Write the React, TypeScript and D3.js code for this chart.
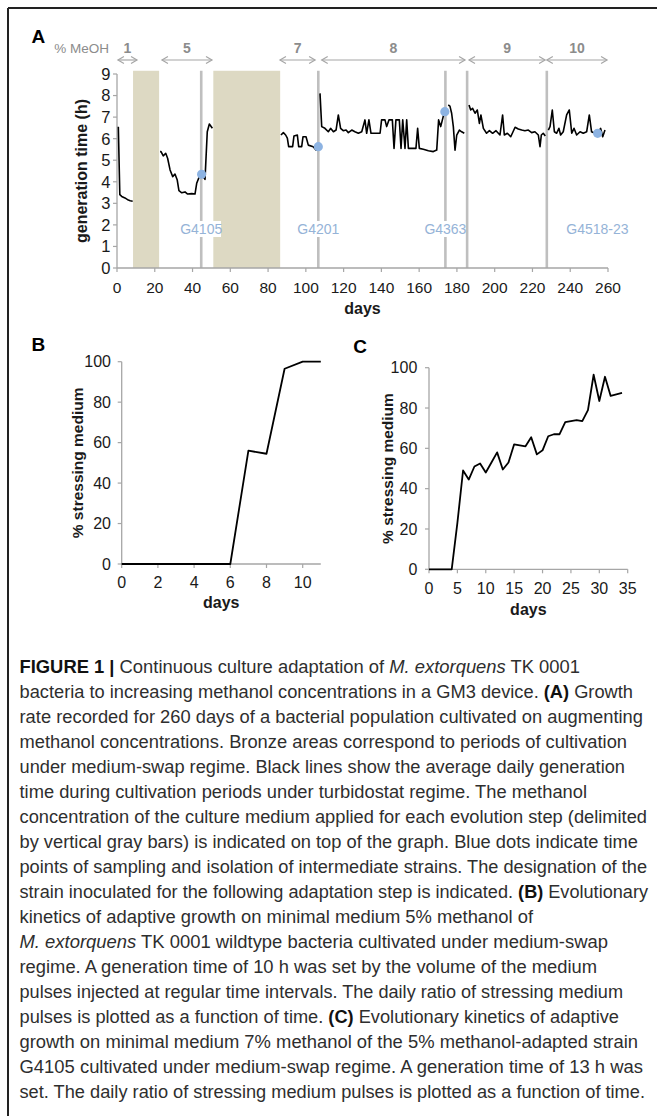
import React from 'react'
import * as d3 from 'd3'

// ---- panel A: generation time (h) under turbidostat, one array per run ----
const run1 = [[0.7, 6.55], [1.5, 3.4], [2.5, 3.32], [4.2, 3.25], [6, 3.15], [7, 3.12], [8.3, 3.1]]
const run2 = [
  [22.8, 5.4], [23.3, 5.4], [24.5, 5.2], [25.8, 5.32], [26.8, 5.09], [28.1, 4.55], [29.5, 4.24],
  [30.7, 4.36], [31.9, 4.08], [32.8, 3.59], [34.3, 3.49], [36, 3.53], [37.4, 3.43], [39.6, 3.45],
  [41.3, 3.43], [42.2, 3.93], [43.6, 4.24], [44.8, 4.35], [46.6, 4.11], [47.8, 6.32], [48.9, 6.68],
  [50.5, 6.48]
]
const run3 = [
  [86.8, 6.17], [88.1, 6.28], [89.3, 6.17], [90.2, 6.02], [90.9, 5.63], [93, 5.63], [93.7, 6.12],
  [95.5, 6.17], [96.2, 5.63], [97.8, 5.63], [98.5, 6.09], [100.1, 6.09], [101.3, 5.7], [103.9, 5.63],
  [105.4, 5.47], [106.6, 5.63]
]
const run4 = [
  [107.5, 8.1], [108.4, 6.56], [110.1, 6.48], [111.9, 6.32], [113.1, 6.48], [114.6, 6.32], [116, 6.4],
  [117.2, 7.1], [118.4, 6.48], [119.8, 6.37], [121.3, 6.4], [122.5, 6.28], [124.3, 6.4], [126, 6.32],
  [127.8, 6.25], [129.6, 6.32], [131.3, 6.87], [132.2, 6.25], [133.4, 6.87], [134.5, 6.25], [137.5, 6.25],
  [139.3, 6.25], [140.1, 6.87], [141.9, 6.87], [142.8, 6.56], [144, 6.87], [145.8, 6.87], [146.7, 5.55],
  [147.7, 6.87], [149.5, 6.87], [150.4, 5.55], [151.3, 6.87], [152.5, 5.55], [153.4, 6.87], [154.3, 5.55],
  [158.3, 5.55], [159.2, 6.48], [160.1, 5.55], [162.2, 5.51], [164.9, 5.44], [167.5, 5.4], [169.3, 5.47],
  [170.3, 6.87], [171.4, 6.56], [172.3, 6.87], [173.2, 7.18]
]
const run5 = [
  [175.4, 7.56], [176.3, 7.51], [177.2, 7.18], [178.1, 6.56], [179, 5.47], [179.9, 6.17], [181.3, 6.4],
  [182.5, 6.32], [183.9, 6.25]
]
const run6 = [
  [186.4, 7.56], [187.3, 7.33], [188.3, 7.41], [189.6, 7.18], [190.8, 7.33], [191.9, 6.71], [192.7, 7.1],
  [194, 6.48], [195.7, 6.25], [197.2, 6.37], [198.9, 6.25], [200.7, 6.37], [202.8, 6.17], [204.2, 7.1],
  [205.1, 6.17], [206.7, 6.25], [208.5, 6.09], [210.8, 6.53], [212.5, 6.45], [214.3, 6.4], [216, 6.37],
  [217.8, 6.4], [219.6, 6.28], [221.3, 6.32], [223.1, 6.17], [224, 5.63], [224.7, 6.17], [225.7, 6.25],
  [226.8, 6.12]
]
const run7 = [
  [228.4, 6.4], [229.3, 6.56], [230.5, 7.33], [231.6, 6.32], [232.8, 6.25], [234, 6.48], [234.9, 6.17],
  [236.3, 6.32], [238.1, 7.1], [239.5, 7.33], [240.8, 6.25], [242, 6.48], [243.4, 6.17], [245.2, 6.32],
  [246.9, 6.25], [248.7, 6.32], [250.1, 7.1], [251.3, 6.32], [253.1, 6.25], [254.5, 6.25], [256.1, 6.48],
  [257.2, 6.09], [258.4, 6.4]
]
const runs = [run1, run2, run3, run4, run5, run6, run7]

const swapPeriods = [[8.5, 22.3], [51, 86.4]]
const stepBars = [44.6, 106.6, 173.9, 185.4, 227.6]
const meohLabels = ['1', '5', '7', '8', '9', '10']
const meohFrom = [0.5, 23.8, 86.3, 108.4, 186.4, 227.6]
const meohTo = [10.6, 50.3, 104.9, 184.3, 226.7, 259.5]
const sampleDays = [44.8, 106.6, 173.6, 254.5]
const sampleValues = [4.35, 5.63, 7.25, 6.25]
const strainNames = ['G4105', 'G4201', 'G4363', 'G4518-23']
const strainDays = [44.6, 106.6, 173.9, 254.4]
const aXTicks = d3.range(0, 261, 20)
const aYTicks = d3.range(0, 10, 1)

// ---- panel B ----
const bDays = d3.range(0, 12)
const bPct = [0, 0, 0, 0, 0, 0, 0, 56, 54.5, 96.5, 100, 100]
const bXTicks = [0, 2, 4, 6, 8, 10]

// ---- panel C ----
const cDays = d3.range(0, 35)
const cPct = [
  0, 0, 0, 0, 0, 23, 49, 44.5, 51, 52.5, 48, 53, 58, 49.5, 53, 62, 61.5, 61, 65.5, 57, 59, 66, 67, 67,
  73, 73.5, 74, 73.5, 79, 96.5, 83.5, 95.5, 86, 86.8, 87.5
]
const cXTicks = d3.range(0, 36, 5)
const pctTicks = [0, 20, 40, 60, 80, 100]

// ---- caption ----
const caption = [
  '**FIGURE 1 |** Continuous culture adaptation of _M. extorquens_ TK 0001',
  'bacteria to increasing methanol concentrations in a GM3 device. **(A)** Growth',
  'rate recorded for 260 days of a bacterial population cultivated on augmenting',
  'methanol concentrations. Bronze areas correspond to periods of cultivation',
  'under medium-swap regime. Black lines show the average daily generation',
  'time during cultivation periods under turbidostat regime. The methanol',
  'concentration of the culture medium applied for each evolution step (delimited',
  'by vertical gray bars) is indicated on top of the graph. Blue dots indicate time',
  'points of sampling and isolation of intermediate strains. The designation of the',
  'strain inoculated for the following adaptation step is indicated. **(B)** Evolutionary',
  'kinetics of adaptive growth on minimal medium 5% methanol of',
  '_M. extorquens_ TK 0001 wildtype bacteria cultivated under medium-swap',
  'regime. A generation time of 10 h was set by the volume of the medium',
  'pulses injected at regular time intervals. The daily ratio of stressing medium',
  'pulses is plotted as a function of time. **(C)** Evolutionary kinetics of adaptive',
  'growth on minimal medium 7% methanol of the 5% methanol-adapted strain',
  'G4105 cultivated under medium-swap regime. A generation time of 13 h was',
  'set. The daily ratio of stressing medium pulses is plotted as a function of time.'
]
const captionEnds = [580, 633, 643, 627, 625, 587, 647, 638, 647, 648, 533, 608, 597, 623, 619, 638, 643, 645]

const FONT = 'Liberation Sans, Arial, Helvetica, sans-serif'
const AXIS = '#a6a6a6'

function Axes({ x, y, xTicks, yTicks, yLabelX, xLabelY, tickSize, xTickSize, yTitle, yTitleX, titleY }: any) {
  const [x0, x1] = x.range()
  const [y0, y1] = y.range()
  return (
    <g fontFamily={FONT}>
      <line x1={x0} x2={x0} y1={y0} y2={y1} stroke={AXIS} strokeWidth={1.3} />
      <line x1={x0} x2={x1} y1={y0} y2={y0} stroke={AXIS} strokeWidth={1.3} />
      {yTicks.map((t: number) => (
        <g key={'y' + t}>
          <line x1={x0 - 4} x2={x0} y1={y(t)} y2={y(t)} stroke={AXIS} strokeWidth={1.2} />
          <text x={yLabelX} y={y(t) + tickSize * 0.36} textAnchor="end" fontSize={tickSize} fill="#1a1a1a">{t}</text>
        </g>
      ))}
      {xTicks.map((t: number) => (
        <g key={'x' + t}>
          <line x1={x(t)} x2={x(t)} y1={y0} y2={y0 + 4} stroke={AXIS} strokeWidth={1.2} />
          <text x={x(t)} y={xLabelY} textAnchor="middle" fontSize={xTickSize || tickSize} fill="#1a1a1a">{t}</text>
        </g>
      ))}
      <text x={(x0 + x1) / 2} y={titleY} textAnchor="middle" fontSize={16} fontWeight="bold" fill="#1a1a1a">days</text>
      <text transform={`translate(${yTitleX},${(y0 + y1) / 2}) rotate(-90)`} textAnchor="middle" fontSize={yTitle[1]}
        fontWeight="bold" fill="#1a1a1a">{yTitle[0]}</text>
    </g>
  )
}

function CaptionLine({ text, y, end }: { text: string; y: number; end: number }) {
  const parts = text.split(/(\*\*[^*]+\*\*|_[^_]+_)/).filter(p => p.length)
  return (
    <text x={19.5} y={y} fontSize={17.5} fontFamily={FONT} fill="#2e2e2e" textLength={end - 19.5}
      lengthAdjust="spacingAndGlyphs" xmlSpace="preserve">
      {parts.map((p, i) => {
        if (p.startsWith('**')) return <tspan key={i} fontWeight="bold" fill="#111">{p.slice(2, -2)}</tspan>
        if (p.startsWith('_')) return <tspan key={i} fontStyle="italic">{p.slice(1, -1)}</tspan>
        return <tspan key={i}>{p}</tspan>
      })}
    </text>
  )
}

export default function App() {
  // panel A scales
  const ax = d3.scaleLinear().domain([0, 260]).range([117, 608])
  const ay = d3.scaleLinear().domain([0, 9]).range([268, 74])
  const aLine = d3.line<number[]>().x(d => ax(d[0])).y(d => ay(d[1]))
  const top = ay(9.15)

  const bx = d3.scaleLinear().domain([0, 11]).range([121.7, 320.8])
  const by = d3.scaleLinear().domain([0, 100]).range([564, 361.7])
  const bLine = d3.line<number>().x((_, i) => bx(bDays[i])).y(d => by(d))

  const cx = d3.scaleLinear().domain([0, 35]).range([429, 627.7])
  const cy = d3.scaleLinear().domain([0, 100]).range([569.3, 367.7])
  const cLine = d3.line<number>().x((_, i) => cx(cDays[i])).y(d => cy(d))

  const arrowY = 60
  return (
    <div style={{ position: 'absolute', left: 0, top: 0 }}>
      <svg width={657} height={1116} style={{ display: 'block', background: '#fff' }}>
        {/* page frame (top and left edges) */}
        <line x1={8} x2={657} y1={8} y2={8} stroke="#222" strokeWidth={2} />
        <line x1={8} x2={8} y1={8} y2={1116} stroke="#222" strokeWidth={2} />

        {/* panel A */}
        <text x={31.5} y={42.7} fontFamily={FONT} fontSize={19} fontWeight="bold">A</text>
        {swapPeriods.map((p, i) => (
          <rect key={i} x={ax(p[0])} y={top} width={ax(p[1]) - ax(p[0])} height={ay(0) - top} fill="#ddd9c3" />
        ))}
        {stepBars.map((d, i) => (
          <line key={i} x1={ax(d)} x2={ax(d)} y1={top} y2={ay(0)} stroke="#bfbfbf" strokeWidth={2.6} />
        ))}
        <Axes x={ax} y={ay} xTicks={aXTicks} yTicks={aYTicks} yLabelX={110.5} xLabelY={292.8} tickSize={16.5}
          xTickSize={15.5} yTitle={['generation time (h)', 16]} yTitleX={87} titleY={314} />
        {strainNames.map((s, i) => {
          const w = s.length * 7.9
          return (
            <g key={s}>
              <rect x={ax(strainDays[i]) - w / 2} y={221} width={w} height={16} fill="#fff" />
              <text x={ax(strainDays[i])} y={234} textAnchor="middle" fontFamily={FONT} fontSize={14}
                fill="#95b3d7">{s}</text>
            </g>
          )
        })}
        {runs.map((r, i) => (
          <path key={i} d={aLine(r) || ''} fill="none" stroke="#000" strokeWidth={1.6} strokeLinejoin="round" />
        ))}
        {sampleDays.map((d, i) => (
          <circle key={i} cx={ax(d)} cy={ay(sampleValues[i])} r={4.6} fill="#8db3e2" />
        ))}
        <text x={54.3} y={52.7} fontFamily={FONT} fontSize={13.5} fill="#8c8c8c">% MeOH</text>
        {meohLabels.map((l, i) => {
          const a = ax(meohFrom[i])
          const b = ax(meohTo[i])
          return (
            <g key={l}>
              <line x1={a} x2={b} y1={arrowY} y2={arrowY} stroke="#a6a6a6" strokeWidth={1.2} />
              <path d={`M${a + 6},${arrowY - 3.5}L${a},${arrowY}L${a + 6},${arrowY + 3.5}`} fill="none" stroke="#a6a6a6" strokeWidth={1.2} />
              <path d={`M${b - 6},${arrowY - 3.5}L${b},${arrowY}L${b - 6},${arrowY + 3.5}`} fill="none" stroke="#a6a6a6" strokeWidth={1.2} />
              <text x={(a + b) / 2} y={52.5} textAnchor="middle" fontFamily={FONT} fontSize={14} fontWeight="bold"
                fill="#8c8c8c">{l}</text>
            </g>
          )
        })}

        {/* panel B */}
        <text x={31.5} y={350.7} fontFamily={FONT} fontSize={19} fontWeight="bold">B</text>
        <Axes x={bx} y={by} xTicks={bXTicks} yTicks={pctTicks} yLabelX={111} xLabelY={588} tickSize={16}
          yTitle={['% stressing medium', 15.5]} yTitleX={82.5} titleY={608.3} />
        <path d={bLine(bPct) || ''} fill="none" stroke="#000" strokeWidth={1.8} strokeLinejoin="round" />

        {/* panel C */}
        <text x={353.3} y={353.3} fontFamily={FONT} fontSize={19} fontWeight="bold">C</text>
        <Axes x={cx} y={cy} xTicks={cXTicks} yTicks={pctTicks} yLabelX={417.3} xLabelY={593.5} tickSize={16}
          yTitle={['% stressing medium', 15.5]} yTitleX={392.5} titleY={615} />
        <path d={cLine(cPct) || ''} fill="none" stroke="#000" strokeWidth={1.8} strokeLinejoin="round" />

        {/* caption */}
        {caption.map((t, i) => (
          <CaptionLine key={i} text={t} y={673 + i * 25} end={captionEnds[i]} />
        ))}
      </svg>
    </div>
  )
}
